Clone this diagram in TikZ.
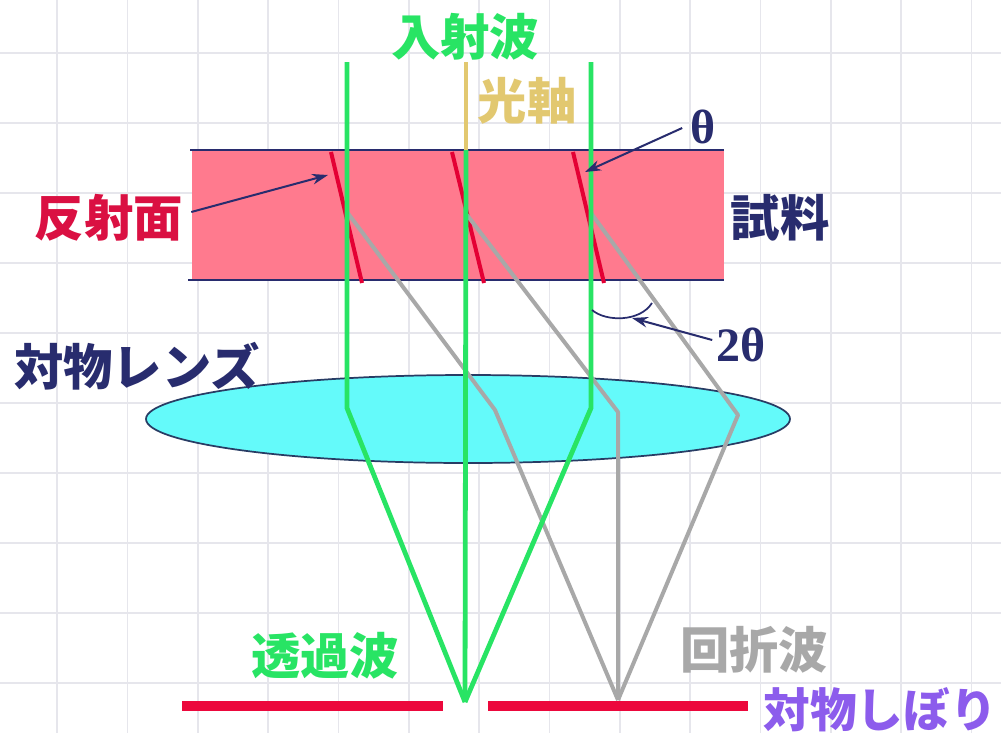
\documentclass[tikz,border=0pt]{standalone}
\usepackage{fontspec}
\newfontfamily\jp{Noto Sans CJK JP}
\newfontfamily\sym{Liberation Serif}
\usetikzlibrary{arrows.meta,shapes.geometric}

\definecolor{gridc}{RGB}{230,230,236}
\definecolor{wave}{RGB}{40,228,100}
\definecolor{axisc}{RGB}{226,200,112}
\definecolor{planec}{RGB}{228,0,52}
\definecolor{samplec}{RGB}{255,122,142}
\definecolor{navy}{RGB}{40,44,110}
\definecolor{lensc}{RGB}{100,250,250}
\definecolor{lensline}{RGB}{40,60,100}
\definecolor{diffc}{RGB}{168,168,168}
\definecolor{reflc}{RGB}{218,16,66}
\definecolor{stopc}{RGB}{236,8,60}
\definecolor{purplec}{RGB}{140,92,236}

\tikzset{
  lbl/.style={font=\jp\bfseries\fontsize{37}{40}\selectfont, inner sep=0pt},
  symlbl/.style={font=\sym\bfseries\fontsize{36}{40}\selectfont, inner sep=0pt, text=navy},
  ray/.style={wave, line width=3.6pt, line join=round},
  diffray/.style={diffc, line width=3pt, line join=round},
  plane/.style={planec, line width=3pt},
  pointer/.style={navy, line width=1.5pt, -{Stealth[length=12pt,width=8pt]}},
  stopbar/.style={stopc, line width=7.5pt},
}

\begin{document}
\begin{tikzpicture}[x=0.75pt,y=-0.75pt]
\useasboundingbox (0,0) rectangle (1001,733);
\fill[white] (0,0) rectangle (1001,733);

% background grid
\foreach \i in {0,...,13} {
  \draw[gridc, line width=1.2pt] ({57+70.35*\i},0) -- ({57+70.35*\i},733);
}
\foreach \j in {0,...,9} {
  \draw[gridc, line width=1.2pt] (0,{53+70*\j}) -- (1001,{53+70*\j});
}

% specimen slab
\fill[samplec] (192,150) rectangle (724,280);
\draw[navy, line width=1.5pt] (190,150) -- (724,150);
\draw[navy, line width=1.5pt] (188,280) -- (724,280);

% objective lens
\node[draw=lensline, line width=1.3pt, fill=lensc, ellipse, minimum width=483pt, minimum height=66pt, inner sep=0pt] (lens) at (468,419) {};

% key points of the ray paths
\coordinate (g1top) at (347,62);
\coordinate (g1b)   at (347,408);
\coordinate (g2top) at (466,62);
\coordinate (g2in)  at (466,150);
\coordinate (g3top) at (591,62);
\coordinate (g3b)   at (591,408);
\coordinate (tfoc)  at (465,702);
\coordinate (r1) at (347,212);
\coordinate (r2) at (467,215);
\coordinate (r3) at (591,213);
\coordinate (d1) at (495,410);
\coordinate (d2) at (618,412);
\coordinate (d3) at (738,415);
\coordinate (dfoc) at (618,700);

% lattice planes
\draw[plane] (331,152) coordinate (p1a) -- (362,283) coordinate (p1b);
\draw[plane] (452,152) coordinate (p2a) -- (484,283) coordinate (p2b);
\draw[plane] (573,152) coordinate (p3a) -- (604,283) coordinate (p3b);

% diffracted beams
\draw[diffray] (r1) -- (d1) -- (dfoc);
\draw[diffray] (r2) -- (d2) -- (dfoc);
\draw[diffray] (r3) -- (d3) -- (dfoc);

% transmitted beams and optical axis
\draw[axisc, line width=3pt] (g2top) -- (g2in);
\draw[ray] (g2in) -- (tfoc);
\draw[ray] (g1top) -- (g1b) -- (tfoc);
\draw[ray] (g3top) -- (g3b) -- (tfoc);

% objective aperture
\draw[stopbar] (182,706) coordinate (s1a) -- (443,706) coordinate (s1b);
\draw[stopbar] (488,706) coordinate (s2a) -- (748,706) coordinate (s2b);

% angle marker
\coordinate (arcA) at (592,310);
\coordinate (arcB) at (652,303);
\draw[navy, line width=1.3pt] (arcA) .. controls (606,322) and (640,322) .. (arcB);

% labels
\node[lbl, text=wave]    (incident) at (465,37)  {入射波};
\node[lbl, text=axisc]   (axis)     at (527,101) {光軸};
\node[lbl, text=reflc]   (refl)     at (109,218) {反射面};
\node[lbl, text=navy]    (sample)   at (780,218) {試料};
\node[symlbl]            (theta)    at (703,127) {θ};
\node[symlbl]            (twotheta) at (741,345) {2θ};
\node[lbl, text=navy]    (objlens)  at (137,366) {対物レンズ};
\node[lbl, text=wave]    (trans)    at (325,656) {透過波};
\node[lbl, text=diffc]   (diff)     at (754,650) {回折波};
\node[lbl, text=purplec, font=\jp\bfseries\fontsize{35}{38}\selectfont, anchor=east] (stop) at (997,710) {対物しぼり};

% pointers
\coordinate (reflTip)  at (328,175);
\coordinate (thetaTip) at (585,172);
\coordinate (arcTip)   at (632,318);
\draw[pointer] (refl.east) ++(8,-6) -- (reflTip);
\draw[pointer] (theta.west) ++(-8,1) -- (thetaTip);
\draw[pointer] (twotheta.west) ++(-4,-5) -- (arcTip);
\end{tikzpicture}
\end{document}
